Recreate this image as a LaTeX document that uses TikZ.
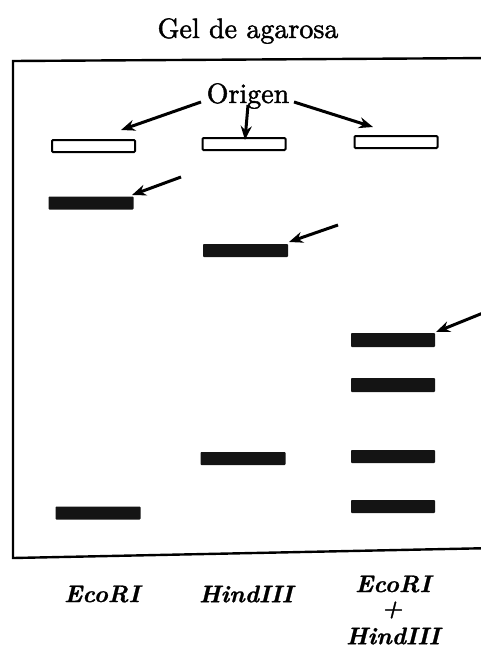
\documentclass[tikz,border=0pt]{standalone}
\usepackage{fontspec}
\newfontfamily\heavyrm{lmroman10-regular.otf}[FakeBold=1.6]
\newfontfamily\heavylbl{lmroman10-bolditalic.otf}[FakeBold=1]
\usetikzlibrary{arrows.meta}
\begin{document}
\begin{tikzpicture}[x=1pt,y=-1pt,
  well/.style={draw=black,line width=2pt,fill=white,rounded corners=1pt,inner sep=0pt,minimum width=83pt,minimum height=12pt},
  band/.style={fill=black!92,inner sep=0pt,minimum width=85pt,minimum height=13pt,rounded corners=0.8pt},
  arr/.style={line width=3pt,-{Stealth[length=14pt,width=11pt]}},
  lbl/.style={font=\heavylbl\fontsize{24}{26}\selectfont,inner sep=0pt},
  ttl/.style={font=\heavyrm\fontsize{28}{30}\selectfont,inner sep=0pt}]
\useasboundingbox (0,0) rectangle (481,653);
% gel frame
\draw[line width=2.4pt] (495,58) -- (13,61) -- (13,558) -- (495,548);
% title
\node[ttl] (title) at (248,31) {Gel de agarosa};
\node[ttl] (orig) at (248,96) {Origen};
% wells
\node[well] (w1) at (93.5,146) {};
\node[well] (w2) at (244,144) {};
\node[well] (w3) at (396,142) {};
% bands
\node[band] (e1) at (91,203) {};
\node[band] (e2) at (98,513) {};
\node[band] (h1) at (245.5,250.5) {};
\node[band] (h2) at (243,458.5) {};
\node[band,minimum width=84pt,minimum height=14pt] (c1) at (393,340) {};
\node[band,minimum width=84pt,minimum height=14pt] (c2) at (393,385) {};
\node[band,minimum width=84pt] (c3) at (393,456.5) {};
\node[band,minimum width=84pt] (c4) at (393,506.5) {};
% arrow coordinates
\coordinate (o1s) at (201,102);
\coordinate (o1t) at (121,130);
\coordinate (o2s) at (248,105);
\coordinate (o2t) at (245,140);
\coordinate (o3s) at (294,102);
\coordinate (o3t) at (373,127);
\coordinate (a1s) at (181,177);
\coordinate (a1t) at (132,195);
\coordinate (a2s) at (338,225);
\coordinate (a2t) at (289,242);
\coordinate (a3s) at (483,313);
\coordinate (a3t) at (436,332);
\draw[arr] (o1s) -- (o1t);
\draw[arr] (o2s) -- (o2t);
\draw[arr] (o3s) -- (o3t);
\draw[arr] (a1s) -- (a1t);
\draw[arr] (a2s) -- (a2t);
\draw[arr] (a3s) -- (a3t);
% labels
\node[lbl] (l1) at (102,594) {EcoRI};
\node[lbl] (l2) at (246,594) {HindIII};
\node[lbl] (l3a) at (393,584) {EcoRI};
\node[lbl] (l3b) at (392,610) {+};
\node[lbl] (l3c) at (393,636) {HindIII};
\end{tikzpicture}
\end{document}
